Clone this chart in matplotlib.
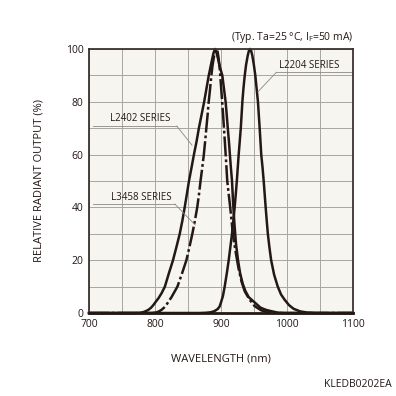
import matplotlib
matplotlib.use("Agg")
import matplotlib.pyplot as plt

plt.rcParams['font.family'] = ['Open Sans', 'DejaVu Sans']

# L2402 series (solid, broad)
wl_2402 = [700, 770, 778, 782, 786, 790, 794, 797.5, 801, 805, 810, 815, 821, 827.3, 832.5,
           837.5, 841.5, 845, 848.3, 851.5, 855.3, 859, 863, 866.5, 870.5, 874.5, 878, 881.5,
           884, 886.5, 888.7, 891, 893.3, 895.8, 898.5, 902, 904.5, 907, 908.7, 910.3, 912,
           913.5, 915, 916.7, 918.3, 920.3, 922.8, 925.8, 929, 933, 937, 942, 951, 960, 968,
           976, 985, 995, 1100]
val_2402 = [0, 0, 0.1, 0.3, 0.7, 1.2, 2, 3, 4.2, 5.5, 7.5, 10, 15, 20, 25,
            30, 35, 40, 45, 50, 55, 60, 65, 70, 75, 80, 85, 90,
            93, 96, 98.5, 100, 98.5, 96, 93, 90, 85, 80, 75, 70, 65,
            60, 55, 50, 42, 34, 26, 20, 15, 11, 8.3, 6, 4, 2, 1.2,
            0.7, 0.2, 0, 0]

# L3458 series (dash-dot, narrower)
wl_3458 = [700, 795, 802, 806, 810, 814, 817, 821, 825, 829.5, 834, 841, 847.6, 852.2, 856.6,
           860.5, 864, 866.7, 869, 871.6, 874, 876, 877.8, 879.7, 881.4, 883.5, 885.4, 887.3,
           889.3, 891, 893, 894.8, 896.4, 898.3, 900.3, 901.8, 903.2, 904.5, 905.8, 907.6, 909.5,
           911.7, 914, 916, 918, 920.4, 923, 926.5, 931, 936, 943.5, 951, 961, 968, 975, 985, 1100]
val_3458 = [0, 0, 0.2, 0.6, 1.2, 2.1, 3, 4.5, 6, 8, 10, 15, 20, 25, 30,
            35, 40, 45, 50, 55, 60, 65, 70, 75, 80, 85, 90, 94,
            97, 99.2, 100, 99, 96.5, 92, 85, 80, 75, 70, 65, 58, 50,
            45, 40, 35, 30, 26, 22, 17, 12, 8.2, 5, 2.6, 1, 0.5, 0.2, 0, 0]

# L2204 series (solid, right peak)
wl_2204 = [700, 868, 878, 885, 890, 895, 898, 900, 903, 905.6, 908.8, 911.7, 914.2, 916.7, 918.7,
           920.7, 922.4, 924, 925.4, 926.8, 928.4, 930, 931.2, 932.4, 934, 936, 938, 940.5,
           942.5, 944, 945.5, 947.5, 949.8, 952, 954, 956, 957.3, 958.6, 959.8, 961, 963,
           964.7, 966.2, 967.7, 969.3, 971, 973.3, 976, 980.5, 986, 991, 996.5, 1003, 1010,
           1020, 1030, 1042, 1100]
val_2204 = [0, 0, 0.1, 0.3, 0.7, 1.5, 2.5, 4, 6.5, 10, 15, 20, 25, 30, 35,
            40, 45, 50, 55, 60, 65, 70, 75, 80, 85, 90, 94, 97.5,
            99.5, 100, 99.5, 97.5, 94, 90, 85, 80, 75, 70, 65, 60, 55,
            50, 45, 40, 35, 30, 25, 20, 14.5, 10, 7, 5, 3, 1.6,
            0.6, 0.2, 0, 0]

x_ticks = [700, 800, 900, 1000, 1100]
y_ticks = [0, 20, 40, 60, 80, 100]

ink = '#231815'
grey = '#a8a6a2'

fig = plt.figure(figsize=(3.96, 3.96), dpi=100)
ax = fig.add_axes([0.2247, 0.2096, 0.6667, 0.6667])
ax.set_facecolor('#f7f5ef')

ax.set_xlim(700, 1100)
ax.set_ylim(0, 100)
ax.set_xticks(x_ticks)
ax.set_yticks(y_ticks)
ax.set_xticks(range(700, 1101, 50), minor=True)
ax.set_yticks(range(0, 101, 10), minor=True)
ax.grid(which='both', color=grey, linewidth=0.7)
ax.set_axisbelow(True)
ax.tick_params(which='both', length=0, labelsize=7.5, colors=ink, pad=4)
for s in ax.spines.values():
    s.set_color('#3a3330')
    s.set_linewidth(1.3)
ax.spines['bottom'].set_linewidth(2.0)
ax.spines['bottom'].set_color(ink)

ax.plot(wl_2402, val_2402, color=ink, lw=1.8, solid_joinstyle='round', clip_on=False)
ax.plot(wl_3458, val_3458, color=ink, lw=1.8, linestyle=(0, (8, 1.2, 1.1, 1.2)),
        dash_joinstyle='round', clip_on=False)
ax.plot(wl_2204, val_2204, color=ink, lw=1.8, solid_joinstyle='round', clip_on=False)

# series labels with underline and leader
lab = dict(fontsize=7, color=ink, ha='center', va='center')
ln = dict(color='#8c8884', lw=0.6)

ax.text(1033, 93.7, 'L2204 SERIES', **lab)
ax.plot([984, 1100], [91.2, 91.2], **ln)
ax.plot([984, 956], [91.2, 83.8], **ln)

ax.text(778, 73.5, 'L2402 SERIES', **lab)
ax.plot([706.5, 833], [70.8, 70.8], **ln)
ax.plot([833, 856], [70.8, 63.6], **ln)

ax.text(780, 43.7, 'L3458 SERIES', **lab)
ax.plot([706.5, 830], [41.3, 41.3], **ln)
ax.plot([830, 861], [41.3, 33.3], **ln)

ax.set_xlabel('WAVELENGTH (nm)', fontsize=8, color=ink, labelpad=17)
ax.set_ylabel('RELATIVE RADIANT OUTPUT (%)', fontsize=8, color=ink, labelpad=15)

fig.text(0.8914, 0.905, '(Typ. Ta=25 \u00b0C, I$_\\mathregular{F}$=50 mA)', fontsize=7.5,
         color=ink, ha='right', va='center')
fig.text(0.99, 0.028, 'KLEDB0202EA', fontsize=7.5, color=ink, ha='right', va='center')

fig.savefig('out.png', dpi=100, facecolor='white')
